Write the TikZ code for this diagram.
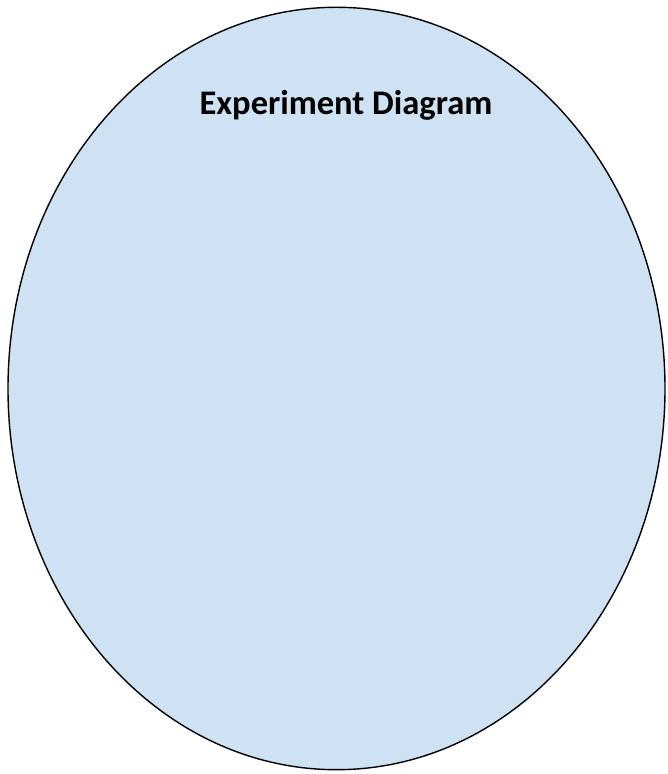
\documentclass[tikz,border=0pt]{standalone}
\usepackage{fontspec}
\setmainfont{Carlito}
\usetikzlibrary{positioning}
\definecolor{paleblue}{RGB}{207,226,243}
\tikzset{
  bowl/.style={draw=black,fill=paleblue,line width=1.4pt},
  heading/.style={font=\fontsize{34.5}{40}\selectfont\bfseries,inner sep=0pt}
}

\begin{document}
\begin{tikzpicture}[x=1pt,y=1pt]
  \useasboundingbox (0,0) rectangle (667,774);
  % outline of the experiment area
  \draw[bowl] (336.5,385.5) ellipse (328.5 and 381.2);
  \node[heading,anchor=base] (title) at (346,659) {Experiment Diagram};
\end{tikzpicture}
\end{document}
